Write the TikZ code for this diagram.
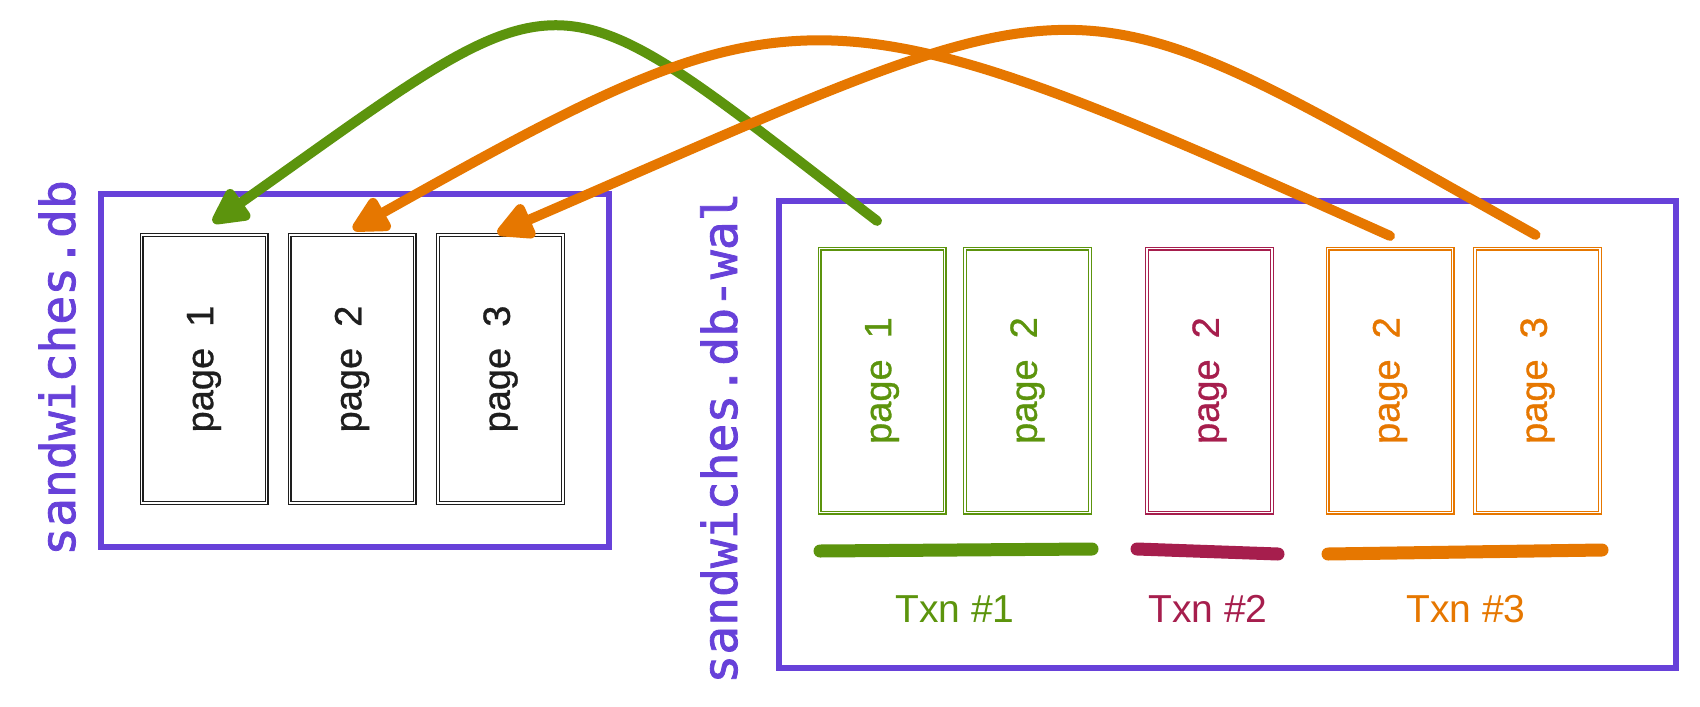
\documentclass[tikz,border=0pt]{standalone}
\usepackage{fontspec}
\setmainfont{Liberation Sans}
\newfontfamily\monofont[FakeBold=1.6]{DejaVu Sans Mono}
\newfontfamily\pagefont[FakeBold=0.8]{Liberation Sans}
\usetikzlibrary{arrows.meta,calc}
\definecolor{cviolet}{HTML}{6741D9}
\definecolor{cgreen}{HTML}{5C940D}
\definecolor{ccrimson}{HTML}{A61E4D}
\definecolor{corange}{HTML}{E67700}
\definecolor{cink}{HTML}{1E1E1E}
\begin{document}
\begin{tikzpicture}[x=0.5pt,y=-0.5pt,
  container/.style={draw=cviolet, line width=3pt, inner sep=0pt},
  filelabel/.style={rotate=90, anchor=base, text=cviolet, inner sep=0pt,
    font=\monofont\fontsize{24}{24}\selectfont},
  pagebox/.style={draw=#1, line width=0.6pt, double=white, double distance=0.8pt,
    minimum width=62.5pt, minimum height=132pt, inner sep=0pt},
  pagetext/.style={rotate=90, text=#1, inner sep=0pt,
    font=\pagefont\fontsize{19}{19}\selectfont},
  txnbar/.style={draw=#1, line width=6.5pt, line cap=round},
  txntext/.style={anchor=base, text=#1, inner sep=0pt,
    font=\fontsize{19.5}{19.5}\selectfont},
  flow/.style={draw=#1, line width=5pt, line cap=round,
    -{Triangle[length=21pt,width=20pt,round]}}]
\useasboundingbox (0,0) rectangle (1700,706);

% containers
\node[container, minimum width=254pt, minimum height=176.5pt] (dbbox) at (355,370.5) {};
\node[container, minimum width=448.5pt, minimum height=233.5pt] (walbox) at (1227.5,434.5) {};
\node[filelabel] (dblabel) at (75,368) {sandwiches.db};
\node[filelabel] (wallabel) at (737,438) {sandwiches.db-wal};

% database pages
\node[pagebox=cink, minimum height=134pt] (d1) at (204,369) {};
\node[pagebox=cink, minimum height=134pt] (d2) at (352,369) {};
\node[pagebox=cink, minimum height=134pt] (d3) at (500.5,369) {};
\node[pagetext=cink] (d1t) at (d1) {page\ \ 1};
\node[pagetext=cink] (d2t) at (d2) {page\ \ 2};
\node[pagetext=cink] (d3t) at (d3) {page\ \ 3};

% WAL pages
\node[pagebox=cgreen] (w1) at (882,380.5) {};
\node[pagebox=cgreen] (w2) at (1027.5,380.5) {};
\node[pagebox=ccrimson] (w3) at (1209.5,380.5) {};
\node[pagebox=corange] (w4) at (1390,380.5) {};
\node[pagebox=corange] (w5) at (1537.5,380.5) {};
\node[pagetext=cgreen] (w1t) at (w1) {page\ \ 1};
\node[pagetext=cgreen] (w2t) at (w2) {page\ \ 2};
\node[pagetext=ccrimson] (w3t) at (w3) {page\ \ 2};
\node[pagetext=corange] (w4t) at (w4) {page\ \ 2};
\node[pagetext=corange] (w5t) at (w5) {page\ \ 3};

% transaction bars and labels
\coordinate (b1a) at (820,551); \coordinate (b1b) at (1092,549);
\coordinate (b2a) at (1137,549); \coordinate (b2b) at (1278,554);
\coordinate (b3a) at (1328,554); \coordinate (b3b) at (1602,550);
\path[txnbar=cgreen] (b1a) -- (b1b);
\path[txnbar=ccrimson] (b2a) -- (b2b);
\path[txnbar=corange] (b3a) -- (b3b);
\node[txntext=cgreen] (x1) at (955,622) {Txn \#1};
\node[txntext=ccrimson] (x2) at (1208,622) {Txn \#2};
\node[txntext=corange] (x3) at (1466,622) {Txn \#3};

% checkpoint arrows
\coordinate (gs) at ($(w1.north)+(-5,-27)$);
\coordinate (o1s) at ($(w4.north)+(0,-12)$);
\coordinate (o2s) at ($(w5.north)+(-2,-13)$);
\coordinate (ge) at ($(d1.north)+(9,-12)$);
\coordinate (o1e) at ($(d2.north)+(1,-5)$);
\coordinate (o2e) at ($(d3.north)+(-3,-1)$);
\path[flow=cgreen] (gs) .. controls (540,-37) and (580,-37) .. (ge);
\path[flow=corange] (o1s) .. controls (817,-21) and (800,-21) .. (o1e);
\path[flow=corange] (o2s) .. controls (1050,-36) and (1120,-36) .. (o2e);
\end{tikzpicture}
\end{document}
